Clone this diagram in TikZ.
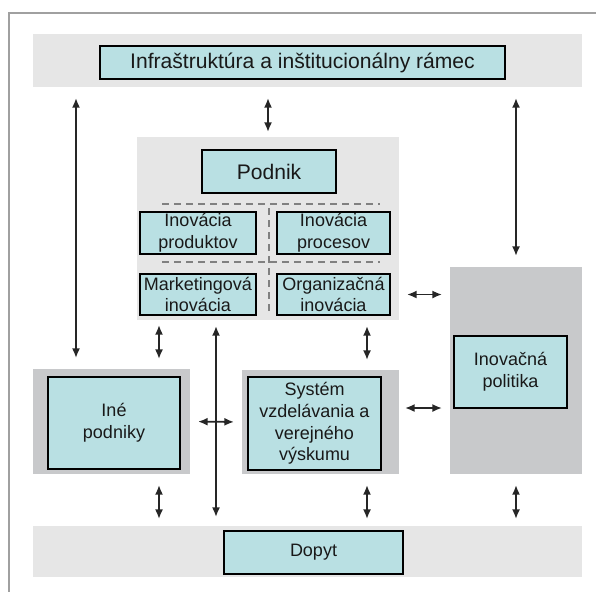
\documentclass[tikz,border=0pt]{standalone}
\usepackage{fontspec}
\setmainfont{Liberation Sans}
\usetikzlibrary{positioning,arrows.meta,calc}
\definecolor{bandgrey}{HTML}{E6E6E6}
\definecolor{regiongrey}{HTML}{C8C9CB}
\definecolor{boxcyan}{HTML}{B9E0E3}
\definecolor{sepgrey}{HTML}{808080}
\definecolor{framegrey}{HTML}{A0A0A0}

\begin{document}
\begin{tikzpicture}[
  x=0.25mm, y=-0.25mm,
  band/.style={fill=bandgrey, inner sep=0pt, outer sep=0pt},
  region/.style={band, fill=regiongrey},
  box/.style={draw=black, line width=1.2pt, fill=boxcyan, align=center, inner sep=1pt,
              outer sep=0pt, text=black!90, font=\fontsize{12.8}{15.4}\selectfont},
  bigbox/.style={box, font=\fontsize{15}{18}\selectfont},
  link/.style={{Latex[length=2.4mm,width=2mm]}-{Latex[length=2.4mm,width=2mm]},
               line width=1.3pt, black!85, shorten <=2mm, shorten >=2mm},
  sep/.style={sepgrey, line width=0.9pt, dash pattern=on 1.8mm off 1.2mm}
]
\useasboundingbox (0,0) rectangle (596,592);
% ================= frame and background bands =================
\draw[framegrey, line width=0.4mm] (596,13) -- (9,13) -- (9,592);
\node[band, minimum width=137.25mm, minimum height=13.25mm] (bandtop) at (307.5,60.5) {};
\node[band, minimum width=137.25mm, minimum height=12.75mm] (bandbot) at (307.5,551.5) {};
\node[band, minimum width=65.5mm, minimum height=45.75mm] (podgray) at (268,228.5) {};
\node[region, minimum width=39.25mm, minimum height=26.25mm] (inegray) at (111.5,421.5) {};
\node[region, minimum width=39.25mm, minimum height=26mm] (sysgray) at (320.5,422) {};
\node[region, minimum width=33mm, minimum height=51.75mm] (polgray) at (516,370.5) {};
% ================= boxes =================
\node[bigbox, minimum width=101.25mm, minimum height=8.25mm] (infra) at (302.5,62.5)
  {Infraštruktúra a inštitucionálny rámec};
\node[bigbox, minimum width=33.5mm, minimum height=10.75mm] (podnik) at (269,171.5) {Podnik};
\node[box, minimum width=29mm, minimum height=10.5mm] (prod) at (198,233)
  {Inovácia\\produktov};
\node[box, minimum width=28.25mm, minimum height=10.5mm, right=5.25mm of prod] (proc)
  {Inovácia\\procesov};
\node[box, minimum width=29mm, minimum height=10.25mm, below=5mm of prod] (mark)
  {Marketingová\\inovácia};
\node[box, minimum width=28.25mm, minimum height=10.25mm, below=5mm of proc] (org)
  {Organizačná\\inovácia};
\node[box, minimum width=33mm, minimum height=23mm] (ine) at (114,423) {Iné\\podniky};
\node[box, minimum width=33.25mm, minimum height=23.25mm] (sys) at (314.5,423.5)
  {Systém\\vzdelávania a\\verejného\\výskumu};
\node[box, minimum width=28.25mm, minimum height=18mm] (pol) at (510.5,372)
  {Inovačná\\politika};
\node[box, minimum width=44.75mm, minimum height=10.75mm] (dopyt) at (313.5,552.5) {Dopyt};
% dashed separators inside the firm
\draw[sep] (162,204) -- (380,204);
\draw[sep] (162,262) -- (380,262);
\draw[sep] (269,208) -- (269,312);
% ================= links to the top band =================
\draw[link, shorten <=2.75mm, shorten >=2.75mm]
  ([xshift=10.75mm]inegray.north west) coordinate (la) -- (la |- bandtop.south);
\draw[link, shorten <=1.25mm, shorten >=2.75mm] (podgray.north) -- (podgray.north |- bandtop.south);
\draw[link, shorten <=2.75mm, shorten >=2.75mm] (polgray.north) -- (polgray.north |- bandtop.south);
% ================= firm <-> lower blocks =================
\draw[link, shorten <=1.25mm, shorten >=2.5mm]
  ([xshift=-7.75mm]inegray.north east |- podgray.south) coordinate (mk) -- (mk |- inegray.north);
\draw[link, shorten <=1.5mm, shorten >=2.5mm]
  ([xshift=-8mm]sysgray.north east |- podgray.south) coordinate (og) -- (og |- sysgray.north);
\coordinate (mid) at ($(inegray.east)!0.5!(sysgray.west)$);
\draw[link, shorten <=1.5mm, shorten >=2.25mm] (mid |- podgray.south) -- (mid |- bandbot.north);
\draw[link] (inegray.east) -- (sysgray.west);
\draw[link] (podgray.east |- org) -- (polgray.west |- org);
\draw[link, shorten <=1.5mm] (sysgray.east |- pol.south) -- (polgray.west |- pol.south);
% ================= links to the demand band =================
\draw[link, shorten <=2.75mm, shorten >=1.75mm] ([xshift=-7.75mm]inegray.south east) coordinate (d1) -- (d1 |- bandbot.north);
\draw[link, shorten <=2.75mm, shorten >=1.75mm] ([xshift=-8mm]sysgray.south east) coordinate (d2) -- (d2 |- bandbot.north);
\draw[link, shorten <=2.75mm, shorten >=1.75mm] (polgray.south) -- (polgray.south |- bandbot.north);
\end{tikzpicture}
\end{document}
